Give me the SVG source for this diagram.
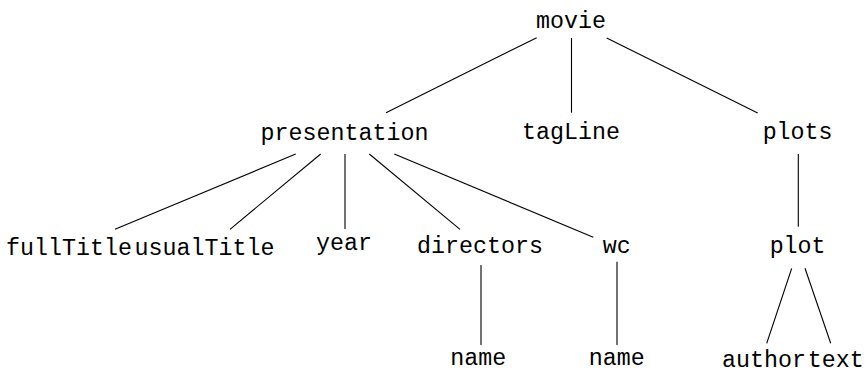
<svg xmlns="http://www.w3.org/2000/svg" width="865" height="372" viewBox="0 0 865 372">
<style>
text{font-family:"Liberation Mono","DejaVu Sans Mono",monospace;font-size:23.3px;fill:#000;text-anchor:middle}
.e line{stroke:#000;stroke-width:1.1;fill:none}
</style>
<rect width="865" height="372" fill="#fff"/>
<g class="e" id="connectors">
<line x1="536.7" y1="37.7" x2="386" y2="112.7"/>
<line x1="571.5" y1="38" x2="571.5" y2="112.7"/>
<line x1="606.7" y1="38" x2="757.7" y2="113"/>
<line x1="295.7" y1="154" x2="115" y2="229.3"/>
<line x1="320.7" y1="154" x2="230" y2="229.3"/>
<line x1="345" y1="154" x2="345" y2="229"/>
<line x1="369.3" y1="154" x2="460" y2="229.3"/>
<line x1="394.3" y1="154" x2="593.3" y2="237.3"/>
<line x1="798.3" y1="154" x2="798.3" y2="226.7"/>
<line x1="481" y1="265" x2="481" y2="345"/>
<line x1="617" y1="261.7" x2="617" y2="345"/>
<line x1="791.7" y1="268.3" x2="766.7" y2="343.3"/>
<line x1="805" y1="268.3" x2="830.7" y2="343.3"/>
</g>
<g id="movie"><text x="571" y="28">movie</text></g>
<g id="presentation"><text x="344.5" y="140">presentation</text></g>
<g id="tagLine"><text x="571" y="139">tagLine</text></g>
<g id="plots"><text x="797.6" y="139">plots</text></g>
<g id="fullTitle"><text x="69" y="255">fullTitle</text></g>
<g id="usualTitle"><text x="204.5" y="255">usualTitle</text></g>
<g id="year"><text x="344" y="250">year</text></g>
<g id="directors"><text x="480" y="253">directors</text></g>
<g id="wc"><text x="616.7" y="253">wc</text></g>
<g id="plot"><text x="797.6" y="253">plot</text></g>
<g id="name1"><text x="478.3" y="365">name</text></g>
<g id="name2"><text x="616.7" y="365">name</text></g>
<g id="author"><text x="764" y="366.5">author</text></g>
<g id="text"><text x="835.8" y="366.5">text</text></g>
</svg>
